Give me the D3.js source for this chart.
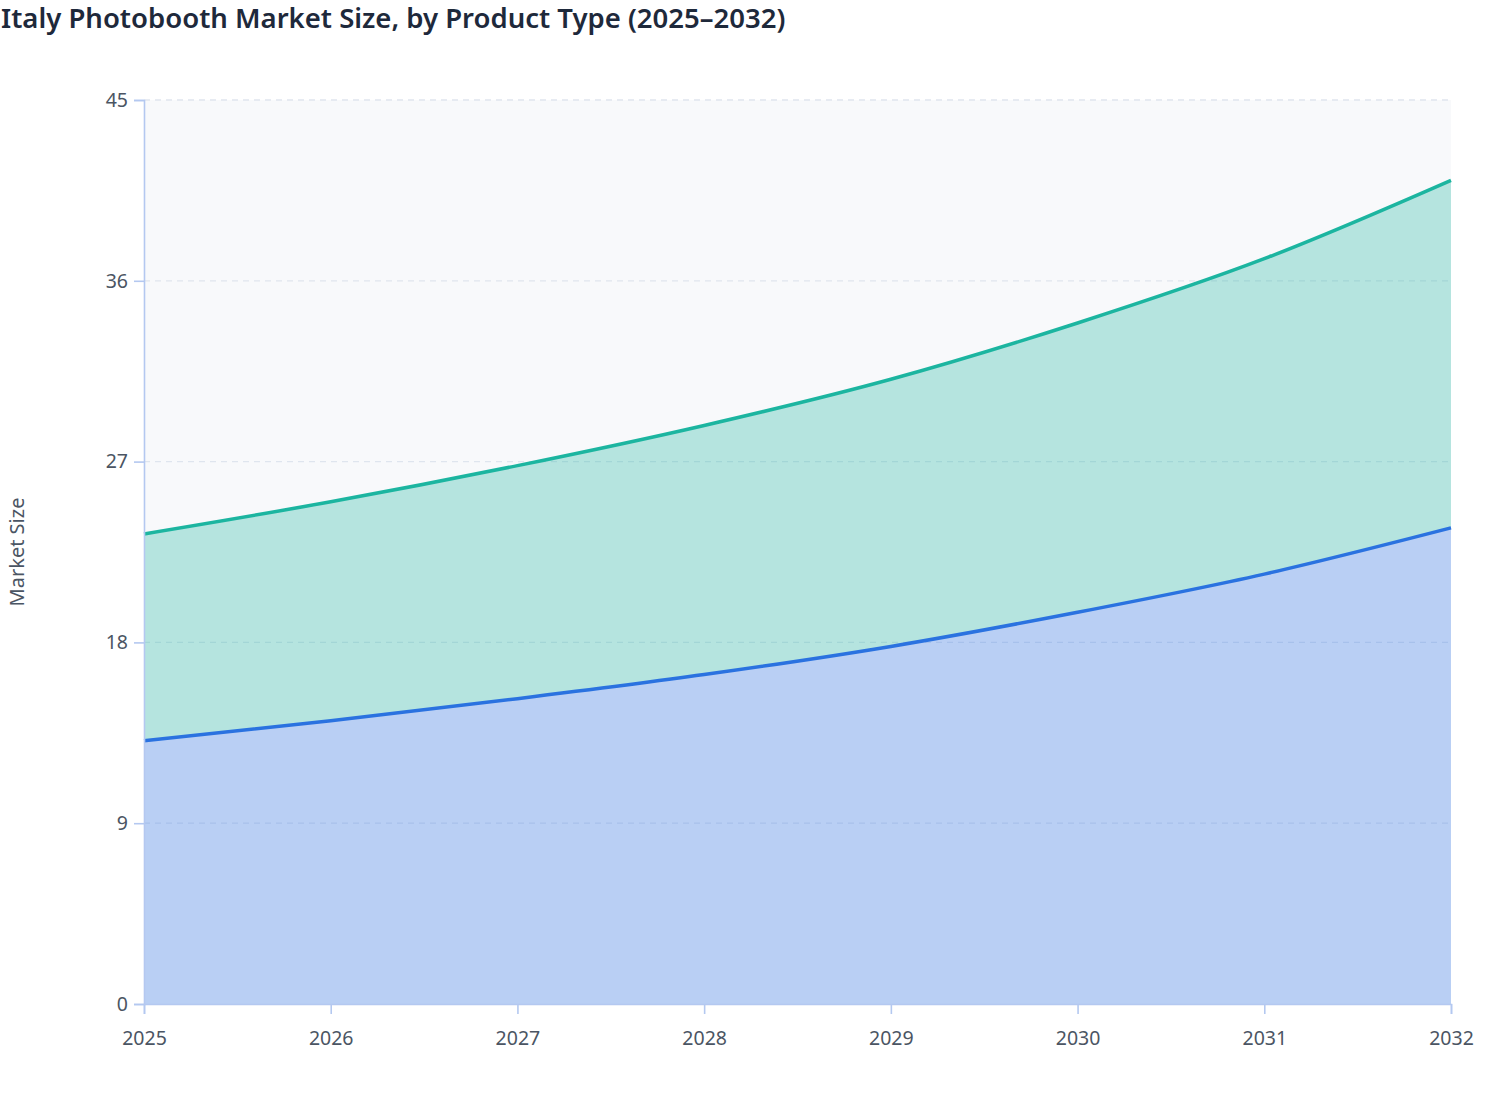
<!DOCTYPE html>
<html><head><meta charset="utf-8">
<script src="https://cdn.jsdelivr.net/npm/d3@7"></script>
<style>
body{margin:0;background:#fff;font-family:"Noto Sans","Open Sans",sans-serif;}
</style></head><body>
<svg id="chart" width="1508" height="1120"></svg>
<script>
const years = [2025, 2026, 2027, 2028, 2029, 2030, 2031, 2032];
const seriesA = [13.1, 14.1, 15.2, 16.4, 17.8, 19.5, 21.4, 23.7];
const seriesB = [10.3, 10.9, 11.6, 12.4, 13.3, 14.4, 15.7, 17.3];
const yTicks = [0, 9, 18, 27, 36, 45];
const title = "Italy Photobooth Market Size, by Product Type (2025–2032)";
const yLabel = "Market Size";

const svg = d3.select("#chart");
const m = {l:144, r:57, t:100, b:116};
const W = 1508, H = 1120;
const x = d3.scaleLinear().domain([2025, 2032]).range([m.l, W - m.r]);
const y = d3.scaleLinear().domain([0, 45]).range([H - m.b, m.t]);

svg.append("text").attr("x", 1).attr("y", 28).text(title)
  .attr("font-size", 27.5).attr("font-weight", 600).attr("fill", "#1e293b");

svg.append("rect").attr("x", x(2025)).attr("y", y(45)).attr("width", x(2032)-x(2025)).attr("height", y(0)-y(45)).attr("fill", "#f8f9fb");

// grid
svg.append("g").selectAll("line").data(yTicks.filter(d => d > 0)).join("line")
  .attr("x1", x(2025)).attr("x2", x(2032)).attr("y1", d => y(d)).attr("y2", d => y(d))
  .attr("stroke", "#dfe5ee").attr("stroke-dasharray", "6,5").attr("stroke-width", 1.3);

const data = years.map((yr, i) => ({year: yr, a: seriesA[i], b: seriesB[i]}));
const stacked = d3.stack().keys(["a", "b"])(data);
const colors = {a: {line: "#2a72e0", fill: "rgba(41,110,230,0.30)"}, b: {line: "#1cb5a0", fill: "rgba(26,180,160,0.30)"}};
const curve = d3.curveMonotoneX;
const area = d3.area().x(d => x(d.data.year)).y0(d => y(d[0])).y1(d => y(d[1])).curve(curve);
const line = d3.line().x(d => x(d.data.year)).y(d => y(d[1])).curve(curve);

stacked.forEach(s => {
  svg.append("path").datum(s).attr("d", area).attr("fill", colors[s.key].fill);
});
stacked.forEach(s => {
  svg.append("path").datum(s).attr("d", line).attr("fill", "none")
    .attr("stroke", colors[s.key].line).attr("stroke-width", 3.5);
});

// axes
const axisColor = "#b4c8f0";
const yAxis = svg.append("g").attr("transform", `translate(${x(2025)},0)`)
  .call(d3.axisLeft(y).tickValues(yTicks).tickSize(10).tickPadding(6));
const xAxis = svg.append("g").attr("transform", `translate(0,${y(0)})`)
  .call(d3.axisBottom(x).tickValues(years).tickFormat(d3.format("d")).tickSize(10).tickPadding(17));
[yAxis, xAxis].forEach(g => {
  g.selectAll("path.domain").attr("stroke", axisColor).attr("stroke-width", 1.6);
  g.selectAll(".tick line").attr("stroke", axisColor).attr("stroke-width", 1.6);
  g.selectAll("text").attr("font-size", 19.5).attr("fill", "#4b5563").attr("font-family", "Noto Sans");
});

svg.append("text").attr("transform", `translate(24,${(y(0)+y(45))/2}) rotate(-90)`)
  .attr("text-anchor", "middle").attr("font-size", 20).attr("fill", "#4b5563").text(yLabel);
</script>
</body></html>
